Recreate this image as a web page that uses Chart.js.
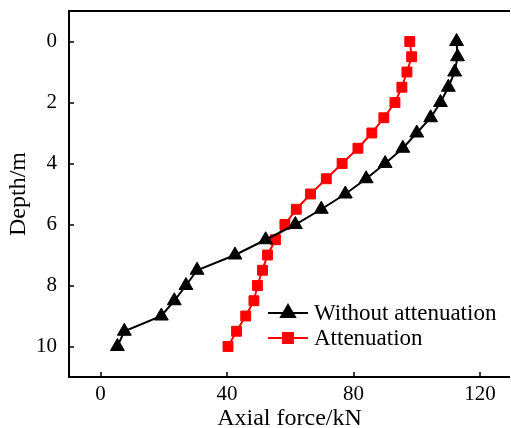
<!DOCTYPE html>
<html>
<head>
<meta charset="utf-8">
<script src="https://cdn.jsdelivr.net/npm/chart.js@4/dist/chart.umd.min.js"></script>
<style>
  html, body { margin: 0; padding: 0; background: #fff; }
</style>
</head>
<body>
<canvas id="chart" width="511" height="428"></canvas>
<script>
// depth of each measuring point (m)
const depths = [0, 0.5, 1, 1.5, 2, 2.5, 3, 3.5, 4, 4.5, 5, 5.5, 6, 6.5, 7, 7.5, 8, 8.5, 9, 9.5, 10];
// axial force (kN)
const withoutAttenuation = [112.6, 112.9, 112, 110, 107.5, 104.4, 100, 95.6, 90, 84, 77.4, 69.8, 61.6, 52.2, 42.5, 30.5, 27, 23.3, 19.2, 7.5, 5.3];
const attenuation = [97.8, 98.4, 96.9, 95.3, 93.1, 89.6, 85.8, 81.4, 76.4, 71.4, 66.4, 61.9, 58.3, 55.3, 52.8, 51.2, 49.6, 48.5, 45.9, 43, 40.3];
const seriesLabels = ["Without attenuation", "Attenuation"];
const xTicks = [0, 40, 80, 120];
const yTicks = [0, 2, 4, 6, 8, 10];

const FONT = "'Liberation Serif', 'Times New Roman', serif";

const toPoints = (values) => values.map((v, i) => ({ x: v, y: depths[i] }));

// left/top/bottom frame with ticks pointing inward
const framePlugin = {
  id: "frame",
  afterDraw(chart) {
    const { ctx, chartArea: a, scales } = chart;
    ctx.save();
    ctx.strokeStyle = "#000";
    ctx.lineWidth = 2;
    ctx.beginPath();
    ctx.moveTo(a.right, a.top);
    ctx.lineTo(a.left, a.top);
    ctx.lineTo(a.left, a.bottom);
    ctx.lineTo(a.right, a.bottom);
    ctx.stroke();

    ctx.lineWidth = 1.5;
    ctx.beginPath();
    xTicks.forEach((v) => {
      const px = Math.round(scales.x.getPixelForValue(v));
      ctx.moveTo(px, a.bottom);
      ctx.lineTo(px, a.bottom - 5);
    });
    yTicks.forEach((v) => {
      const py = Math.round(scales.y.getPixelForValue(v));
      ctx.moveTo(a.left, py);
      ctx.lineTo(a.left + 5, py);
    });
    ctx.stroke();
    ctx.restore();
  },
};

// legend sits inside the plot, lower right
const legendPlugin = {
  id: "innerLegend",
  afterDraw(chart) {
    const { ctx, chartArea: a } = chart;
    const x0 = a.left + 199;
    const y0 = a.top + 302;
    ctx.save();
    chart.data.datasets.forEach((ds, i) => {
      const y = y0 + i * 25;
      ctx.strokeStyle = ds.borderColor;
      ctx.fillStyle = ds.backgroundColor;
      ctx.lineWidth = 2;
      ctx.beginPath();
      ctx.moveTo(x0, y);
      ctx.lineTo(x0 + 40, y);
      ctx.stroke();
      Chart.helpers.drawPoint(ctx, {
        pointStyle: ds.pointStyle,
        radius: ds.pointRadius,
        borderWidth: 1,
      }, x0 + 20, y);
      ctx.fillStyle = "#000";
      ctx.font = "23px " + FONT;
      ctx.textBaseline = "middle";
      ctx.fillText(ds.label, x0 + 46, y + 1);
    });
    ctx.restore();
  },
};

const noEdgePadding = (scale) => {
  scale.paddingLeft = 0;
  scale.paddingRight = 0;
  scale.paddingTop = 0;
  scale.paddingBottom = 0;
};

new Chart(document.getElementById("chart"), {
  type: "scatter",
  data: {
    datasets: [
      {
        label: seriesLabels[0],
        data: toPoints(withoutAttenuation),
        showLine: true,
        borderColor: "#000000",
        backgroundColor: "#000000",
        borderWidth: 2,
        pointStyle: "triangle",
        pointRadius: 8,
        pointBorderWidth: 1,
      },
      {
        label: seriesLabels[1],
        data: toPoints(attenuation),
        showLine: true,
        borderColor: "#ff0000",
        backgroundColor: "#ff0000",
        borderWidth: 2,
        pointStyle: "rect",
        pointRadius: 7,
        pointBorderWidth: 1,
      },
    ],
  },
  options: {
    responsive: false,
    animation: false,
    layout: { autoPadding: false, padding: { top: 11, right: 1, left: 0, bottom: 0 } },
    plugins: {
      legend: { display: false },
      tooltip: { enabled: false },
    },
    scales: {
      x: {
        type: "linear",
        min: -10,
        max: 129.5,
        grid: { display: false, drawTicks: false },
        border: { display: false },
        afterBuildTicks: (scale) => { scale.ticks = xTicks.map((v) => ({ value: v })); },
        afterFit: (scale) => { scale.height = 51; noEdgePadding(scale); },
        ticks: { color: "#000", font: { family: FONT, size: 21 }, padding: 5, maxRotation: 0 },
        title: {
          display: true,
          text: "Axial force/kN",
          color: "#000",
          font: { family: FONT, size: 24, lineHeight: 0.8 },
          padding: { top: 0, bottom: 0 },
        },
      },
      y: {
        type: "linear",
        reverse: true,
        min: -1,
        max: 11,
        grid: { display: false, drawTicks: false },
        border: { display: false },
        afterBuildTicks: (scale) => { scale.ticks = yTicks.map((v) => ({ value: v })); },
        afterFit: (scale) => { scale.width = 69; noEdgePadding(scale); },
        ticks: { color: "#000", font: { family: FONT, size: 21 }, padding: 12 },
        title: {
          display: true,
          text: "Depth/m",
          color: "#000",
          font: { family: FONT, size: 24 },
          padding: { top: 4, bottom: 0 },
        },
      },
    },
  },
  plugins: [framePlugin, legendPlugin],
});
</script>
</body>
</html>
